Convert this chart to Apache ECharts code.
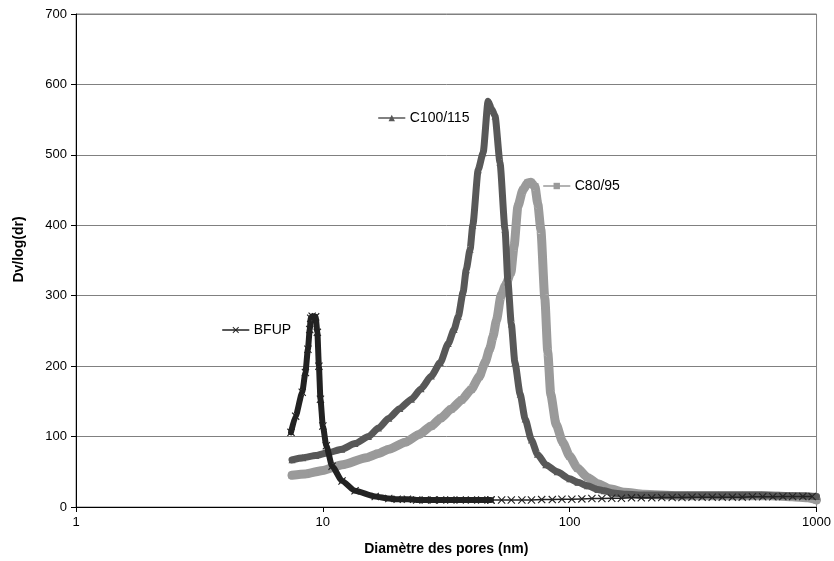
<!DOCTYPE html>
<html>
<head>
<meta charset="utf-8">
<script src="https://cdn.jsdelivr.net/npm/echarts@6/dist/echarts.min.js"></script>
<style>
html,body{margin:0;padding:0;background:#fff;}
#chart{width:834px;height:561px;}
</style>
</head>
<body>
<div id="chart"></div>
<script>
// ---- Data ----
const xTicks = [1, 10, 100, 1000];
const yTicks = [0, 100, 200, 300, 400, 500, 600, 700];

const bfupX = [7.43, 7.76, 8.25, 8.5, 8.7, 8.85, 8.93, 9.05, 9.35, 9.5, 9.64, 9.78, 10.0, 10.33, 10.9, 11.96, 13.5, 16.3, 18.5, 20, 22, 24, 26, 28, 30, 33, 36, 40, 44, 48];
const bfupY = [106, 129, 163, 191, 224, 252, 268, 271, 270, 248, 200, 153, 115, 87, 58, 37, 23, 15, 12, 11, 11, 10, 10, 10, 10, 10, 10, 10, 10, 10];

const bfupTailX = [48, 53, 58, 64, 70, 77, 85, 93, 102, 112, 123, 135, 148, 162, 178, 195, 215, 236, 260, 285, 313, 344, 378, 415, 456, 500, 550, 605, 665, 730, 800, 880, 960];
const bfupTailY = [10, 10, 10, 10, 10, 10.5, 10.5, 11, 11, 11.5, 12, 12, 12.5, 12.5, 13, 13, 13, 13.5, 13.5, 13.5, 14, 14, 14, 14, 14, 14, 14.5, 14.5, 14.5, 15, 15, 15, 15];

const c100X = [7.5, 8.3, 9.35, 10.5, 11.93, 13.5, 15.3, 16.8, 18.5, 20.5, 22.85, 25, 27.5, 29.9, 32.2, 34, 35.4, 37.0, 38.1, 39.5, 40.5, 42.6, 44.6, 46.7, 48.3, 49.85, 52.2, 54.7, 56.2, 58, 60.0, 63, 66, 70, 74, 80, 89, 100, 108, 118, 130, 138, 150, 170, 200, 250, 300, 400, 500, 600, 700, 800, 900, 1000];
const c100Y = [67, 70, 73, 77, 82, 90, 100, 112, 126, 140, 153, 168, 186, 205, 232, 252, 271, 305, 337, 366, 400, 479, 503, 576, 565, 555, 489, 394, 320, 260, 205, 160, 125, 95, 75, 60, 50, 40, 35, 30, 25, 23, 20, 18, 17, 17, 17, 17, 17, 17, 16, 16, 16, 15];

const c80X = [7.5, 8.5, 10, 12, 15, 16.8, 18.5, 21.6, 24.5, 27.5, 30, 33.1, 36.5, 39.9, 43, 45.4, 47.5, 48.9, 50.5, 52.7, 55, 57.8, 59.5, 61.7, 64.6, 67.5, 69.6, 72.3, 74.3, 76.4, 79.3, 81.5, 83.8, 88, 93.7, 100, 107.7, 118, 130, 145, 167, 200, 273, 350, 450, 550, 650, 750, 850, 920, 1000];
const c80Y = [45, 47, 52, 60, 70, 76, 82, 92, 103, 115, 126, 139, 152, 167, 185, 205, 225, 242, 265, 300, 315, 333, 370, 427, 450, 460, 461, 455, 430, 394, 296, 220, 160, 118, 92, 72, 55, 42, 33, 26, 21, 18, 16, 16, 16, 16, 16, 15, 14, 13, 10];

const names = ['BFUP', 'C100/115', 'C80/95'];
const colors = ['#222222', '#585858', '#9a9a9a'];

function pairs(xs, ys) { return xs.map((x, i) => [x, ys[i]]); }

const xMark = 'path://M1,0 L5,4 L9,0 L10,1 L6,5 L10,9 L9,10 L5,6 L1,10 L0,9 L4,5 L0,1 Z';
const FONT = "'Liberation Sans', Arial, sans-serif";

const chart = echarts.init(document.getElementById('chart'), null, {renderer: 'canvas'});

function legendAt(name, left, top) {
  return {
    data: [name], left: left, top: top, padding: 0, orient: 'horizontal',
    itemWidth: 26, itemHeight: 8, selectedMode: false,
    lineStyle: {width: 1.5},
    textStyle: {fontFamily: FONT, fontSize: 14, color: '#000'}
  };
}

chart.setOption({
  animation: false,
  backgroundColor: '#fff',
  textStyle: {fontFamily: FONT},
  grid: {left: 76, right: 14, top: 14, bottom: 53, show: true, borderColor: '#808080', borderWidth: 1},
  legend: [
    legendAt(names[0], 222, 323),
    legendAt(names[1], 378, 111),
    legendAt(names[2], 543, 179)
  ],
  xAxis: {
    type: 'log', logBase: 10, min: xTicks[0], max: xTicks[xTicks.length - 1],
    name: 'Diamètre des pores (nm)', nameLocation: 'middle', nameGap: 35,
    nameTextStyle: {fontFamily: FONT, fontSize: 14, fontWeight: 'bold', color: '#000'},
    axisLine: {show: true, lineStyle: {color: '#000', width: 1}},
    axisTick: {show: true, length: 5, inside: false, lineStyle: {color: '#000'}},
    minorTick: {show: false},
    axisLabel: {fontFamily: FONT, fontSize: 13, color: '#000', margin: 9,
      formatter: function (v) { return String(Math.round(v)); }},
    splitLine: {show: false}
  },
  yAxis: {
    type: 'value', min: yTicks[0], max: yTicks[yTicks.length - 1], interval: 100,
    name: 'Dv/log(dr)', nameLocation: 'middle', nameGap: 50, nameRotate: 90,
    nameTextStyle: {fontFamily: FONT, fontSize: 14, fontWeight: 'bold', color: '#000', padding: [0, 0, 0, 22]},
    axisLine: {show: true, lineStyle: {color: '#000', width: 1}},
    axisTick: {show: true, length: 5, inside: false, lineStyle: {color: '#000'}},
    axisLabel: {fontFamily: FONT, fontSize: 13, color: '#000', margin: 9},
    splitLine: {show: true, lineStyle: {color: '#808080', width: 1}}
  },
  series: [
    {
      name: names[2], type: 'line', data: pairs(c80X, c80Y), z: 2,
      smooth: 0.2, smoothMonotone: 'x',
      symbol: 'rect', symbolSize: 7, showSymbol: true,
      itemStyle: {color: colors[2]},
      lineStyle: {color: colors[2], width: 9, join: 'round', cap: 'round'}
    },
    {
      name: names[1], type: 'line', data: pairs(c100X, c100Y), z: 3,
      smooth: 0.2, smoothMonotone: 'x',
      symbol: 'triangle', symbolSize: 7, showSymbol: true,
      itemStyle: {color: colors[1]},
      lineStyle: {color: colors[1], width: 7, join: 'round', cap: 'round'}
    },
    {
      name: names[0], type: 'line', data: pairs(bfupX, bfupY), z: 4,
      smooth: 0.2, smoothMonotone: 'x',
      symbol: xMark, symbolSize: 8, showSymbol: true,
      itemStyle: {color: colors[0]},
      lineStyle: {color: colors[0], width: 6, join: 'round', cap: 'round'}
    },
    {
      name: names[0], type: 'line', data: pairs(bfupTailX, bfupTailY), z: 4,
      symbol: xMark, symbolSize: 8, showSymbol: true,
      itemStyle: {color: colors[0]},
      lineStyle: {color: colors[0], width: 1.5}
    }
  ]
});
</script>
</body>
</html>
